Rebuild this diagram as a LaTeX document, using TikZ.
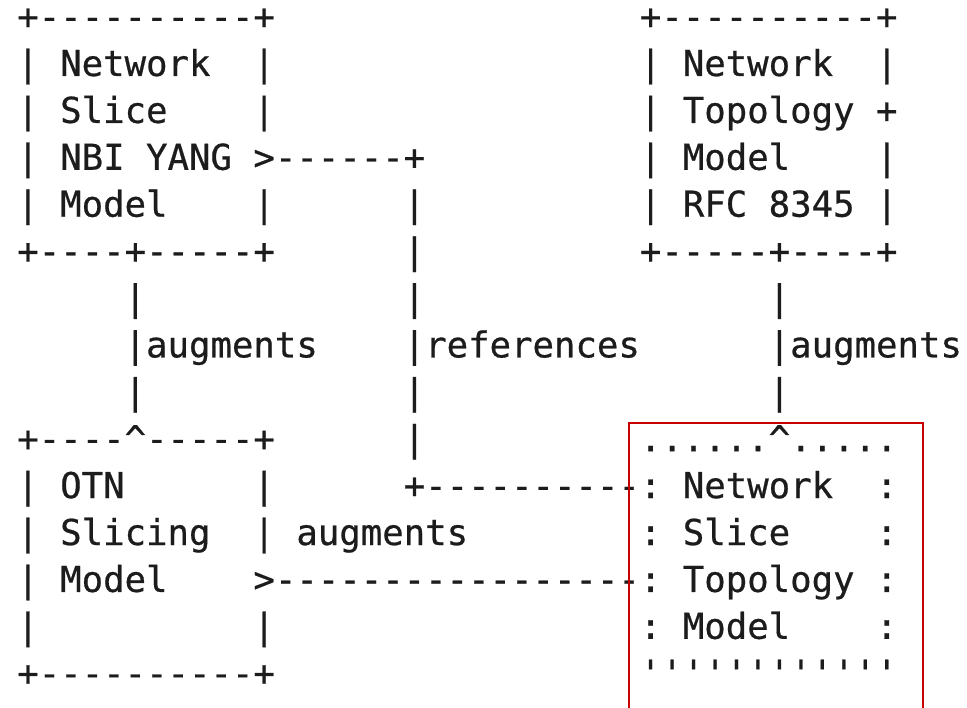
\documentclass[tikz,border=0pt]{standalone}
\usepackage{fontspec}
\setmonofont{DejaVu Sans Mono}[FakeBold=0.6]
\definecolor{ink}{RGB}{28,28,28}
\definecolor{framered}{RGB}{200,0,0}
% character cell grid: 21.47pt pitch, 46.9pt line step
\newcommand\asc[4]{\node[asc] (#1) at ({17.27+21.47*#2},{29.1+46.9*#3}) {#4};}
\begin{document}
\begin{tikzpicture}[x=1pt,y=-1pt,
  asc/.style={font=\ttfamily\fontsize{35.66pt}{42pt}\selectfont,
    text=ink, anchor=base west, inner sep=0pt, outer sep=0pt}]
\clip (0,0) rectangle (967,708);
\fill[white] (0,0) rectangle (967,708);

% Network Slice NBI YANG Model
\asc{nbiA}{0}{0}{+----------+}
\asc{nbiB}{0}{1}{|~Network~~|}
\asc{nbiC}{0}{2}{|~Slice~~~~|}
\asc{nbiD}{0}{3}{|~NBI~YANG~>}
\asc{nbiE}{0}{4}{|~Model~~~~|}
\asc{nbiF}{0}{5}{+----+-----+}

% augments link between the two left boxes
\asc{augA}{5}{6}{|}
\asc{augB}{5}{7}{|augments}
\asc{augC}{5}{8}{|}

% OTN Slicing Model
\asc{otnA}{0}{9}{+----\textasciicircum-----+}
\asc{otnB}{0}{10}{|~OTN~~~~~~|}
\asc{otnC}{0}{11}{|~Slicing~~|}
\asc{otnD}{0}{12}{|~Model~~~~>}
\asc{otnE}{0}{13}{|~~~~~~~~~~|}
\asc{otnF}{0}{14}{+----------+}

% references link
\asc{refA}{12}{3}{------+}
\asc{refB}{18}{4}{|}
\asc{refC}{18}{5}{|}
\asc{refD}{18}{6}{|}
\asc{refE}{18}{7}{|references}
\asc{refF}{18}{8}{|}
\asc{refG}{18}{9}{|}
\asc{refH}{18}{10}{+----------}

% augments link from OTN model
\asc{otnAugLbl}{13}{11}{augments}
\asc{otnAugLine}{12}{12}{-----------------}

% Network Topology Model RFC 8345
\asc{topoA}{29}{0}{+----------+}
\asc{topoB}{29}{1}{|~Network~~|}
\asc{topoC}{29}{2}{|~Topology~+}
\asc{topoD}{29}{3}{|~Model~~~~|}
\asc{topoE}{29}{4}{|~RFC~8345~|}
\asc{topoF}{29}{5}{+-----+----+}

% augments link on the right
\asc{rAugA}{35}{6}{|}
\asc{rAugB}{35}{7}{|augments}
\asc{rAugC}{35}{8}{|}

% Network Slice Topology Model (dotted box)
\asc{nstA}{29}{9}{......\textasciicircum.....}
\asc{nstB}{29}{10}{:~Network~~:}
\asc{nstC}{29}{11}{:~Slice~~~~:}
\asc{nstD}{29}{12}{:~Topology~:}
\asc{nstE}{29}{13}{:~Model~~~~:}
\asc{nstF}{29}{14}{''''''''''''}

% highlight frame
\draw[framered, line width=2pt] (629,712) -- (629,423) -- (923,423) -- (923,712);
\end{tikzpicture}
\end{document}
